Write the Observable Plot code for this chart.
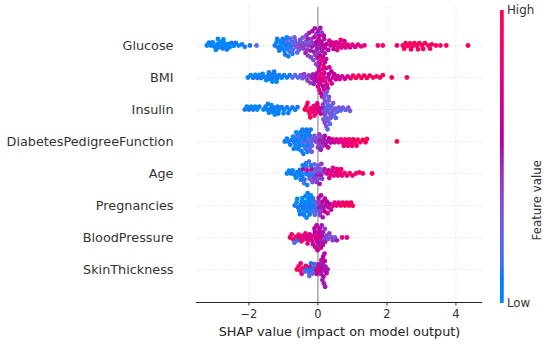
<!DOCTYPE html>
<html><head><meta charset="utf-8">
<script src="https://cdn.jsdelivr.net/npm/d3@7"></script>
<script src="https://cdn.jsdelivr.net/npm/@observablehq/plot@0.6"></script>
<style>
body{margin:0;background:#fff;}
#wrap{position:relative;width:550px;height:346px;font-family:"DejaVu Sans",sans-serif;background:#fff;}
#wrap svg{position:absolute;top:0;}
</style></head><body><div id="wrap"></div>
<script>
const features = ["Glucose","BMI","Insulin","DiabetesPedigreeFunction","Age","Pregnancies","BloodPressure","SkinThickness"];
const xTicks = [-2, 0, 2, 4];
const gridTicks = [-2, 2, 4];
const axisTitle = "SHAP value (impact on model output)";
const legendTitle = "Feature value";
const legendHigh = "High";
const legendLow = "Low";

// [SHAP value, normalized feature value]
const glucose = [
 [-3.22,.0],[-3.16,.1],[-3.1,.0],[-3.05,.0],[-3.0,.1],[-2.96,.0],[-2.92,.0],[-2.88,.1],[-2.84,.0],[-2.8,.0],[-2.76,.1],[-2.72,.0],[-2.68,.0],[-2.64,.1],[-2.6,.0],[-2.56,.0],[-2.5,.1],[-2.44,.0],[-2.38,.1],[-2.3,.0],[-2.2,.1],[-2.12,.1],[-1.97,.1],[-1.78,.2],
 [-1.25,.1],[-1.2,.0],[-1.16,.1],[-1.12,.1],[-1.08,.0],[-1.04,.1],[-1.0,.1],[-0.97,.0],[-0.94,.1],[-0.91,.2],[-0.88,.1],[-0.85,.1],[-0.82,.2],[-0.79,.1],[-0.76,.2],[-0.73,.2],[-0.7,.3],[-0.66,.2],[-0.62,.3],[-0.58,.3],[-0.54,.3],[-0.5,.4],[-0.46,.3],[-0.42,.4],
 [-0.38,.4],[-0.35,.3],[-0.32,.4],[-0.3,.5],[-0.27,.4],[-0.24,.3],[-0.22,.5],[-0.19,.4],[-0.17,.5],[-0.14,.4],[-0.12,.5],[-0.1,.6],[-0.08,.4],[-0.06,.5],[-0.04,.6],[-0.02,.5],[0,.4],[0.02,.6],[0.04,.5],[0.06,.6],[0.08,.5],[0.1,.6],[0.12,.5],[0.15,.6],[0.18,.5],[0.21,.6],[0.25,.6],
 [0.3,.6],[0.36,.7],[0.42,.7],[0.48,.7],[0.53,.7],[0.58,.8],[0.63,.7],[0.68,.7],[0.74,.8],[0.8,.7],[0.86,.8],[0.93,.7],[1.0,.8],[1.08,.7],[1.16,.8],[1.25,.8],[1.35,.8],
 [1.74,.9],[1.88,.9],[2.29,.9],
 [2.46,.9],[2.54,1],[2.6,.9],[2.67,1],[2.74,.9],[2.8,1],[2.87,.9],[2.94,1],[3.02,.9],[3.1,1],[3.2,.9],[3.3,1],[3.42,.9],[3.55,1],[3.72,.9],[4.35,1],
 [-0.36,.5],[-0.33,.4],[-0.29,.3],[-0.25,.5],[-0.2,.4],[-0.16,.6],[-0.13,.3],[-0.09,.5],[-0.05,.4],[-0.01,.6],[0.01,.5],[0.03,.4],[0.05,.6],[0.07,.5],[0.11,.4],[0.14,.5],[0.17,.6],[0.2,.5],
 [-1.18,.1],[-1.1,.0],[-1.02,.1],[-0.95,.1],[-0.9,.0],[-0.86,.1],[-0.8,.2],[-0.74,.1],[-0.68,.3],[-0.6,.2],[-0.52,.3],[-0.44,.3],
 [-2.9,.0],[-2.74,.0],
 [0.33,.7],[0.45,.6],[0.56,.7],[0.66,.8],[0.77,.7],
 [2.5,1],[2.7,.9],[2.9,1],[3.05,1],[3.25,.9]
];
const bmi = [
 [-2.03,.1],[-1.95,.0],[-1.88,.1],[-1.82,.0],[-1.76,.1],[-1.7,.0],[-1.65,.1],[-1.6,.0],[-1.55,.1],[-1.5,.0],[-1.45,.1],[-1.4,.0],[-1.35,.1],[-1.3,.1],[-1.24,.0],[-1.18,.1],[-1.12,.1],[-1.05,.0],[-0.98,.1],[-0.9,.1],[-0.82,.1],[-0.74,.2],[-0.66,.2],[-0.58,.2],
 [-0.5,.3],[-0.45,.3],[-0.4,.4],[-0.35,.3],[-0.3,.4],[-0.26,.4],[-0.22,.4],[-0.18,.5],[-0.14,.5],
 [-0.1,.5],[-0.06,.6],[-0.03,.5],[0,.6],[0.03,.7],[0.05,.8],[0.07,.6],[0.09,.8],[0.11,.7],[0.13,.8],[0.15,.6],[0.17,.8],[0.19,.7],[0.21,.8],[0.23,.6],[0.26,.7],[0.29,.5],[0.32,.6],[0.35,.7],[0.39,.6],[0.43,.7],[0.47,.6],[0.52,.7],[0.57,.6],[0.63,.7],[0.7,.7],[0.78,.6],[0.86,.7],
 [0.95,.9],[1.02,.9],[1.1,1],[1.18,.9],[1.26,1],[1.34,.9],[1.42,1],[1.5,.9],[1.6,1],[1.7,.9],[1.8,1],[1.88,.9],[2.14,1],[2.58,1],
 [0.0,.7],[0.02,.5],[0.04,.8],[0.06,.7],[0.08,.6],[0.1,.8],[0.12,.7],[0.14,.6],[0.16,.8],[0.18,.7],[0.2,.6],[0.22,.8],[0.24,.7],[0.28,.6],[0.33,.7],[0.4,.7],[-0.05,.4],[-0.12,.5],
 [-1.42,.1],[-1.32,.0],[-1.27,.1],[-1.2,.0]
];
const insulin = [
 [-2.12,.1],[-2.06,.0],[-2.0,.1],[-1.94,.0],[-1.88,.1],[-1.82,.0],[-1.76,.0],[-1.7,.1],[-1.58,.0],[-1.52,.1],[-1.47,.0],[-1.42,.0],[-1.37,.1],[-1.32,.0],[-1.27,.1],[-1.22,.0],[-1.17,.1],[-1.12,.0],[-1.05,.1],[-0.98,.0],[-0.9,.1],[-0.82,.0],[-0.74,.1],[-0.66,.1],[-0.59,.1],
 [-0.38,.9],[-0.33,.9],[-0.28,1],[-0.24,.9],[-0.2,.9],[-0.16,.8],[-0.12,.9],[-0.08,.8],[-0.04,.9],[0,.8],[0.04,.7],[0.08,.6],[0.12,.5],
 [0.15,.4],[0.17,.3],[0.19,.4],[0.21,.3],[0.23,.3],[0.25,.2],[0.27,.3],[0.29,.2],[0.31,.3],[0.33,.2],[0.36,.3],[0.39,.2],[0.42,.3],[0.46,.2],[0.5,.3],[0.55,.2],[0.6,.3],[0.66,.2],[0.72,.3],[0.8,.2],[0.88,.3],[0.93,.3],
 [0.16,.3],[0.18,.3],[0.2,.4],[0.22,.2],[0.24,.3],[0.26,.3],[0.28,.2],[0.3,.3],[0.32,.3],[0.35,.2],[0.38,.3],[0.44,.3],[0.52,.2],
 [-0.3,.9],[-0.22,1],[-0.1,.8],[-0.02,.7],
 [-1.45,.1],[-1.35,.0],[-1.25,.0],[-1.15,.1],[-1.0,.0],[-0.86,.1]
];
const pedigree = [
 [-0.96,.1],[-0.9,.0],[-0.85,.1],[-0.8,.0],[-0.76,.1],[-0.72,.0],[-0.68,.1],[-0.65,.0],[-0.62,.1],[-0.59,.2],[-0.56,.0],[-0.53,.1],[-0.5,.0],[-0.47,.1],[-0.44,.2],[-0.41,.0],[-0.38,.1],[-0.35,.1],[-0.32,.2],[-0.29,.1],[-0.26,.2],[-0.23,.1],[-0.2,.2],[-0.17,.2],[-0.14,.3],
 [-0.1,.3],[-0.06,.4],[-0.02,.3],[0.02,.4],[0.06,.5],[0.1,.4],[0.14,.5],[0.18,.5],[0.22,.6],[0.27,.5],[0.32,.6],[0.37,.6],[0.42,.7],[0.48,.6],[0.54,.7],[0.6,.7],
 [0.66,.8],[0.72,.8],[0.78,.9],[0.84,.8],[0.9,.9],[0.96,.8],[1.02,.9],[1.08,.9],[1.15,1],[1.22,.9],[1.3,1],[1.38,.9],[1.42,1],[2.29,1],
 [-0.7,.1],[-0.63,.0],[-0.57,.1],[-0.51,.1],[-0.48,.0],[-0.45,.1],[-0.42,.1],[-0.39,.0],[-0.36,.2],[-0.33,.1],[-0.3,.0],[-0.27,.1],[-0.24,.2],[-0.21,.1],[-0.18,.3],
 [0,.4],[0.04,.4],[0.08,.5],[0.12,.4],[0.2,.5],[0.3,.6],
 [0.75,.8],[0.87,.9],[0.99,.9],[1.12,.9]
];
const age = [
 [-0.9,.1],[-0.84,.0],[-0.78,.1],[-0.73,.0],[-0.68,.1],[-0.64,.0],[-0.6,.1],[-0.56,.0],[-0.52,.1],[-0.48,.0],[-0.45,.1],[-0.42,.6],[-0.39,.1],[-0.36,.0],[-0.33,.2],[-0.3,.7],[-0.27,.1],[-0.24,.3],[-0.21,.2],[-0.18,.6],[-0.15,.1],[-0.12,.4],[-0.09,.2],[-0.06,.3],[-0.03,.5],[0,.3],[0.03,.4],[0.06,.3],[0.09,.5],[0.12,.4],[0.15,.4],[0.19,.5],
 [0.26,.7],[0.31,.6],[0.36,.8],[0.41,.7],[0.46,.8],[0.52,.7],[0.58,.8],[0.64,.9],[0.7,.8],[0.77,.9],[0.84,.8],[0.92,.9],[1.0,.8],[1.1,.9],[1.2,.9],[1.3,.9],[1.57,1],
 [-0.5,.1],[-0.44,.0],[-0.4,.2],[-0.35,.1],[-0.31,.0],[-0.26,.2],[-0.2,.1],[-0.16,.3],[-0.1,.2],[-0.04,.4],[0.01,.3],[0.05,.5],[0.1,.4],
 [0.33,.7],[0.44,.8],[0.55,.8],[0.67,.9]
];
const pregnancies = [
 [-0.67,.1],[-0.62,.0],[-0.58,.1],[-0.54,.0],[-0.5,.1],[-0.47,.0],[-0.44,.1],[-0.41,.0],[-0.38,.1],[-0.35,.0],[-0.32,.1],[-0.29,.0],[-0.26,.1],[-0.23,.0],[-0.2,.1],[-0.17,.2],[-0.14,.1],[-0.11,.2],[-0.08,.1],[-0.05,.2],[-0.02,.3],
 [0.01,.4],[0.04,.5],[0.07,.4],[0.1,.5],[0.13,.6],[0.16,.5],[0.19,.6],[0.22,.5],[0.26,.6],[0.3,.7],[0.34,.6],[0.38,.7],[0.43,.7],[0.48,.8],[0.54,.8],[0.6,.8],
 [0.66,.9],[0.72,.9],[0.78,1],[0.84,.9],[0.9,1],[0.96,.9],[1.01,1],
 [-0.6,.0],[-0.52,.1],[-0.45,.0],[-0.4,.1],[-0.36,.0],[-0.33,.0],[-0.3,.1],[-0.27,.0],[-0.24,.1],[-0.21,.0],[-0.15,.1],[-0.09,.2],
 [0.02,.5],[0.06,.4],[0.09,.6],[0.14,.5],[0.2,.6],[0.28,.7]
];
const bloodPressure = [
 [-0.81,.9],[-0.76,.9],[-0.72,1],[-0.68,.2],[-0.64,.9],[-0.6,.1],[-0.56,.9],[-0.52,.8],[-0.48,.9],[-0.44,.7],[-0.4,.8],[-0.36,.9],[-0.32,.7],[-0.28,.8],[-0.24,.7],[-0.2,.8],[-0.16,.7],[-0.12,.7],[-0.09,.6],[-0.06,.7],[-0.03,.6],[0,.7],[0.03,.6],[0.06,.7],[0.09,.5],[0.12,.6],[0.15,.5],[0.18,.4],[0.21,.5],[0.25,.4],[0.29,.3],[0.33,.4],[0.38,.3],[0.43,.4],[0.49,.3],[0.55,.5],[0.7,.8],[0.84,.8],
 [-0.14,.7],[-0.1,.6],[-0.07,.7],[-0.04,.6],[-0.01,.7],[0.02,.5],[0.05,.6],[0.08,.7],[0.11,.5],[0.14,.6],[0.2,.4],[-0.3,.8]
];
const skinThickness = [
 [-0.61,1],[-0.56,.9],[-0.51,.9],[-0.47,.8],[-0.43,.9],[-0.39,.2],[-0.35,.8],[-0.31,.1],[-0.27,.2],[-0.23,.9],[-0.19,.1],[-0.15,.2],[-0.12,.1],[-0.09,.3],[-0.06,.7],[-0.03,.6],[0,.7],[0.03,.5],[0.06,.6],[0.09,.5],[0.12,.6],[0.14,.5],[0.16,.6],[0.18,.5],[0.2,.6],[0.22,.5],[0.25,.6],[0.28,.5],
 [0.1,.6],[0.13,.5],[0.15,.6],[0.17,.5],[0.19,.6],[0.21,.5],[-0.2,.1],[-0.25,.2],[-0.5,.9]
];

const series = [glucose, bmi, insulin, pedigree, age, pregnancies, bloodPressure, skinThickness];
const data = features.flatMap((f, i) => series[i].map(([s, v]) => ({feature: f, shap: s, value: v})));

// SHAP red_blue colormap: LCh blend, lightness dips in the middle
function shapInterp(t) {
  const l = t < 0.5 ? 54 - 28 * t : 40 + 28 * (t - 0.5);
  const c = 70 + 20 * t;
  const h = 266.93 + (380.32 - 266.93) * t;
  return d3.lch(l, c, h % 360).formatHex();
}

const xDomain = [-3.52, 4.77];
const colorScale = {type: "linear", domain: [0, 1], interpolate: shapInterp};
const font = "DejaVu Sans";

const under = Plot.plot({
  width: 550, height: 346,
  marginLeft: 196, marginRight: 68, marginTop: 7, marginBottom: 44,
  x: {domain: xDomain},
  y: {domain: [0, 1], axis: null},
  style: {fontFamily: font, background: "white", color: "#333"},
  marks: [
    Plot.ruleX(gridTicks, {stroke: "#d4d4d4", strokeWidth: 0.8, strokeDasharray: "1,2"}),
    Plot.ruleX([0], {stroke: "#999999", strokeWidth: 1.3}),
    Plot.ruleY([0], {stroke: "#222", strokeWidth: 1.2}),
    Plot.axisX(xTicks, {tickSize: 3.5, tickPadding: 3.5, fontSize: 11.5, label: null, stroke: "#333", fill: "#333"}),
    Plot.text([axisTitle], {frameAnchor: "bottom", dy: 29.5, fontSize: 12.8, fill: "#222", lineAnchor: "middle"})
  ]
});

const main = Plot.plot({
  width: 550, height: 346,
  marginLeft: 196, marginRight: 68, marginTop: 26.7, marginBottom: 58.7,
  x: {domain: xDomain, axis: null},
  y: {domain: [-1, 1], axis: null},
  fy: {domain: features, padding: 0, label: null},
  color: colorScale,
  style: {fontFamily: font, background: "transparent", color: "#333"},
  marks: [
    Plot.ruleY([0], {stroke: "#cccccc", strokeWidth: 0.8, strokeDasharray: "1,2.2"}),
    Plot.axisFy({anchor: "left", label: null, tickSize: 0, tickPadding: 23, fontSize: 12.8, fill: "#333"}),
    Plot.dot(data, Plot.dodgeY({anchor: "middle", padding: -1.2}, {x: "shap", fy: "feature", fill: "value", r: 2.4}))
  ]
});

const steps = d3.range(0, 1, 0.004);
const legend = Plot.plot({
  width: 70, height: 346,
  marginLeft: 0, marginRight: 0, marginTop: 0, marginBottom: 0,
  x: {domain: [0, 1], range: [20, 23.5], axis: null},
  y: {domain: [0, 1], range: [303, 10], axis: null},
  color: colorScale,
  style: {fontFamily: font, background: "transparent", color: "#333"},
  marks: [
    Plot.rect(steps, {x1: 0, x2: 1, y1: d => d, y2: d => Math.min(1, d + 0.009), fill: d => d + 0.002}),
    Plot.text([legendHigh], {x: 1, y: 1, dx: 3, textAnchor: "start", fontSize: 11.8, fill: "#333"}),
    Plot.text([legendLow], {x: 1, y: 0, dx: 3, textAnchor: "start", fontSize: 11.8, fill: "#333"}),
    Plot.text([legendTitle], {frameAnchor: "right", dx: -13.3, y: 0.49, rotate: -90, fontSize: 11.8, fill: "#333"})
  ]
});
legend.style.left = "480px";

const wrap = document.getElementById("wrap");
wrap.append(under, main, legend);
</script>
</body></html>
